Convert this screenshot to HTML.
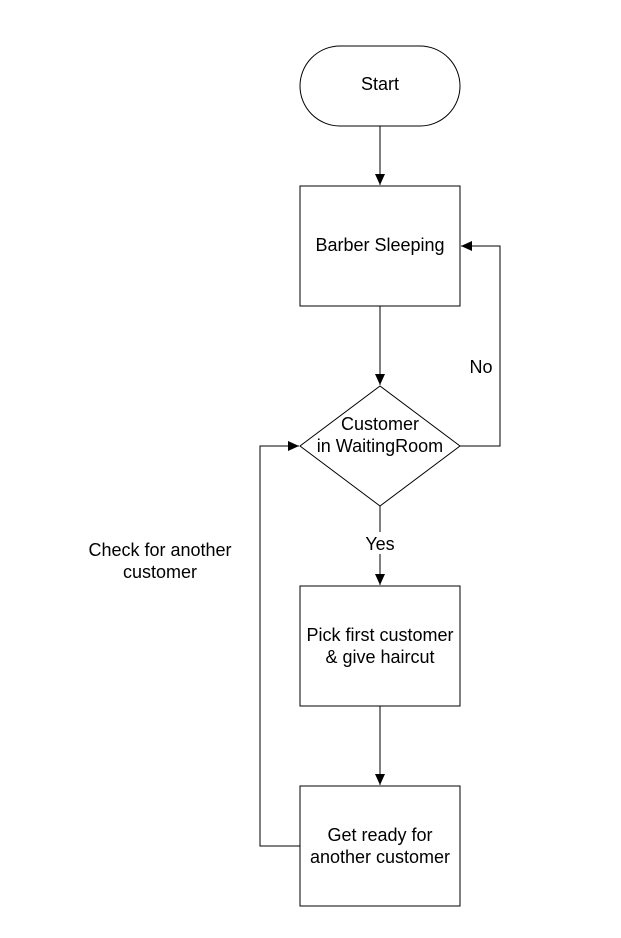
<!DOCTYPE html>
<html><head><meta charset="utf-8"><style>
html,body{margin:0;padding:0;background:#fff;}
svg{display:block;}
text{font-family:"Liberation Sans",sans-serif;font-size:18px;fill:#000;}
</style></head><body>
<svg width="621" height="938" viewBox="0 0 621 938" xmlns="http://www.w3.org/2000/svg">
<defs><marker id="a" markerWidth="12" markerHeight="12" refX="11" refY="5" orient="auto" markerUnits="userSpaceOnUse"><path d="M0,0 L11,5 L0,10 z" fill="#000"/></marker></defs>
<g stroke="#000" stroke-width="1" fill="none">
<rect x="300" y="46" width="160" height="80" rx="40" ry="40" fill="#fff"/>
<rect x="300" y="186" width="160" height="120" fill="#fff"/>
<polygon points="380,386 460,446 380,506 300,446" fill="#fff"/>
<rect x="300" y="586" width="160" height="120" fill="#fff"/>
<rect x="300" y="786" width="160" height="120" fill="#fff"/>
<line x1="380" y1="126" x2="380" y2="185" marker-end="url(#a)"/>
<line x1="380" y1="306" x2="380" y2="385" marker-end="url(#a)"/>
<line x1="380" y1="506" x2="380" y2="585" marker-end="url(#a)"/>
<line x1="380" y1="706" x2="380" y2="785" marker-end="url(#a)"/>
<polyline points="460,446 500,446 500,246 461,246" marker-end="url(#a)"/>
<polyline points="300,846 260,846 260,446 299,446" marker-end="url(#a)"/>
</g>
<rect x="360" y="532" width="40" height="22" fill="#fff"/>
<g text-anchor="middle">
<text x="380" y="90">Start</text>
<text x="380" y="251">Barber Sleeping</text>
<text x="380" y="430">Customer</text>
<text x="380" y="452">in WaitingRoom</text>
<text x="380" y="550">Yes</text>
<text x="481" y="373">No</text>
<text x="380" y="641">Pick first customer</text>
<text x="380" y="663">&amp; give haircut</text>
<text x="380" y="841">Get ready for</text>
<text x="380" y="863">another customer</text>
<text x="160" y="556">Check for another</text>
<text x="160" y="578">customer</text>
</g>
</svg>
</body></html>
